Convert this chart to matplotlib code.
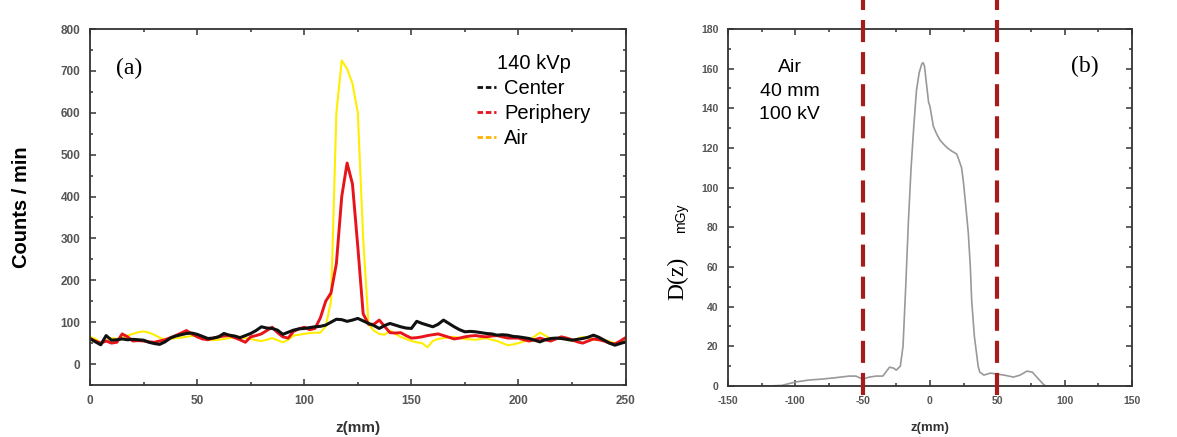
import numpy as np
import matplotlib
matplotlib.use("Agg")
import matplotlib.pyplot as plt
from matplotlib.lines import Line2D
from matplotlib.ticker import MultipleLocator

plt.rcParams["axes.unicode_minus"] = False

# ---- panel (a): counts along z, sampled every 2.5 mm ----
z_a = np.arange(0, 250.1, 2.5)

center = [61, 53, 46, 68, 57, 58, 60, 58, 59, 58,
          57, 52, 49, 47, 53, 62, 67, 70, 73, 74,
          71, 66, 61, 62, 65, 73, 69, 67, 63, 68,
          73, 80, 89, 86, 85, 81, 71, 76, 81, 84,
          85, 87, 89, 90, 93, 100, 107, 106, 102, 105,
          109, 103, 97, 92, 85, 92, 97, 93, 89, 86,
          85, 102, 97, 93, 89, 95, 105, 97, 89, 82,
          77, 78, 77, 75, 73, 72, 69, 70, 69, 66,
          65, 63, 61, 57, 53, 58, 61, 62, 61, 59,
          57, 59, 61, 64, 69, 64, 57, 50, 45, 49,
          53]

periphery = [60, 55, 50, 55, 50, 52, 72, 65, 55, 56,
             55, 53, 52, 55, 58, 63, 68, 74, 80, 72,
             65, 60, 58, 62, 65, 67, 68, 63, 58, 52,
             65, 68, 72, 80, 88, 75, 65, 62, 78, 84,
             88, 82, 85, 110, 150, 170, 240, 400, 480, 430,
             280, 120, 95, 95, 105, 90, 75, 74, 75, 68,
             62, 63, 65, 68, 70, 72, 68, 64, 60, 62,
             65, 67, 68, 66, 65, 67, 68, 65, 62, 62,
             62, 58, 55, 58, 62, 58, 55, 60, 65, 62,
             58, 53, 50, 55, 60, 58, 55, 50, 48, 55,
             63]

air = [65, 60, 50, 55, 62, 60, 62, 68, 72, 76,
       78, 75, 70, 63, 58, 60, 62, 63, 65, 67,
       68, 62, 58, 57, 58, 60, 62, 64, 65, 62,
       60, 57, 55, 58, 62, 57, 52, 58, 68, 70,
       72, 74, 75, 75, 90, 150, 600, 725, 705, 670,
       600, 300, 95, 80, 72, 70, 80, 72, 65, 60,
       55, 52, 50, 40, 55, 60, 62, 64, 65, 62,
       60, 59, 58, 60, 62, 58, 55, 50, 45, 47,
       50, 54, 58, 66, 75, 68, 60, 61, 62, 58,
       55, 60, 65, 62, 58, 58, 58, 54, 50, 52,
       55]

# ---- panel (b): dose profile ----
z_b = [-150, -120, -110, -100, -90, -80, -70, -60, -55, -50,
       -45, -40, -35, -30, -27, -25, -22, -20, -18, -16,
       -14, -12, -10, -8, -6, -5, -4, -2.7, -1, 0,
       2.5, 5, 7.5, 10, 13, 16, 19.8, 21.5, 23.5, 25,
       27, 28.5, 30, 31, 33, 35.8, 37, 40, 45, 50,
       55, 62, 67, 72, 76, 80, 84, 86, 150]
dose = [0, 0, 0.3, 2, 3, 3.5, 4.2, 5, 5, 3.5,
        4.5, 5, 5, 9.5, 9, 8, 10, 20, 50, 83,
        110, 131, 149, 158, 162.5, 163, 161, 153, 143, 141,
        131, 127, 124, 122, 120, 118.5, 117, 114, 110, 102,
        88, 77, 60, 43, 25, 10, 7, 5.5, 6.5, 6,
        5.5, 4.5, 5.5, 7.5, 7, 4, 1, 0, 0]
markers_b = [-50, 50]

fig = plt.figure(figsize=(11.77, 4.37), dpi=100)
ax1 = fig.add_axes([0.0765, 0.119, 0.455, 0.8146])
ax2 = fig.add_axes([0.6185, 0.1167, 0.3432, 0.817])

font_a = {"family": "Liberation Sans", "weight": "bold", "size": 8.5}
font_b = {"family": "Liberation Sans", "weight": "bold", "size": 7.5}

for ax in (ax1, ax2):
    for s in ax.spines.values():
        s.set_linewidth(1.3)
        s.set_color("#333333")
    ax.tick_params(which="both", direction="in", top=True, right=True,
                   colors="#333333", labelcolor="#555555", width=1.1)
    ax.tick_params(which="major", length=4, pad=7)
    ax.tick_params(which="minor", length=2.5)

# panel (a)
ax1.plot(z_a, air, color="#FFEE00", lw=1.5)
ax1.plot(z_a, periphery, color="#E8141B", lw=2.1)
ax1.plot(z_a, center, color="#111111", lw=2.2)
ax1.set_xlim(0, 250)
ax1.set_ylim(-50, 800)
ax1.xaxis.set_major_locator(MultipleLocator(50))
ax1.xaxis.set_minor_locator(MultipleLocator(25))
ax1.set_yticks(range(0, 801, 100))
ax1.yaxis.set_minor_locator(MultipleLocator(50))
for lab in ax1.get_xticklabels() + ax1.get_yticklabels():
    lab.set_fontproperties(font_a)
ax1.set_xlabel("z(mm)", family="Liberation Sans", weight="bold", fontsize=11,
               color="#333333", labelpad=10)
ax1.set_ylabel("Counts / min", family="Liberation Sans", weight="bold",
               fontsize=14.5, labelpad=21)
ax1.text(0.048, 0.89, "(a)", transform=ax1.transAxes, family="Liberation Serif",
         fontsize=17, ha="left", va="center")

handles = [Line2D([], [], color=c, lw=2, ls=(0, (2, 1)))
           for c in ("#111111", "#E8141B", "#FFB300")]
leg = ax1.legend(handles, ["Center", "Periphery", "Air"], title="140 kVp",
                 loc="upper left", bbox_to_anchor=(0.722, 0.93), frameon=False,
                 prop={"family": "Liberation Sans", "size": 14.5},
                 title_fontproperties={"family": "Liberation Sans", "size": 14.5},
                 handlelength=0.95, handletextpad=0.4, labelspacing=0.3,
                 borderpad=0, borderaxespad=0)

# panel (b)
ax2.plot(z_b, dose, color="#999999", lw=1.2)
for m in markers_b:
    ax2.axvline(m, ymin=-0.025, ymax=1.08, clip_on=False, color="#A61C1C",
                lw=3, ls=(0, (5.3, 2.4)), zorder=5)
ax2.set_xlim(-150, 150)
ax2.set_ylim(0, 180)
ax2.xaxis.set_major_locator(MultipleLocator(50))
ax2.xaxis.set_minor_locator(MultipleLocator(25))
ax2.yaxis.set_major_locator(MultipleLocator(20))
ax2.yaxis.set_minor_locator(MultipleLocator(10))
for lab in ax2.get_xticklabels() + ax2.get_yticklabels():
    lab.set_fontproperties(font_b)
ax2.set_xlabel("z(mm)", family="Liberation Sans", weight="bold", fontsize=9.5,
               color="#333333", labelpad=12)
ax2.text(0.153, 0.826, "Air\n40 mm\n100 kV", transform=ax2.transAxes,
         family="Liberation Sans", fontsize=14, ha="center", va="center",
         linespacing=1.5)
ax2.text(0.884, 0.896, "(b)", transform=ax2.transAxes, family="Liberation Serif",
         fontsize=17, ha="center", va="center")
fig.text(678 / 1177, 1 - 278 / 437, "D(z)", family="Liberation Serif", fontsize=17,
         rotation=90, ha="center", va="center")
fig.text(681 / 1177, 1 - 218 / 437, "mGy", family="Liberation Sans", fontsize=10,
         rotation=90, ha="center", va="center")

fig.savefig("out.png", dpi=100)
